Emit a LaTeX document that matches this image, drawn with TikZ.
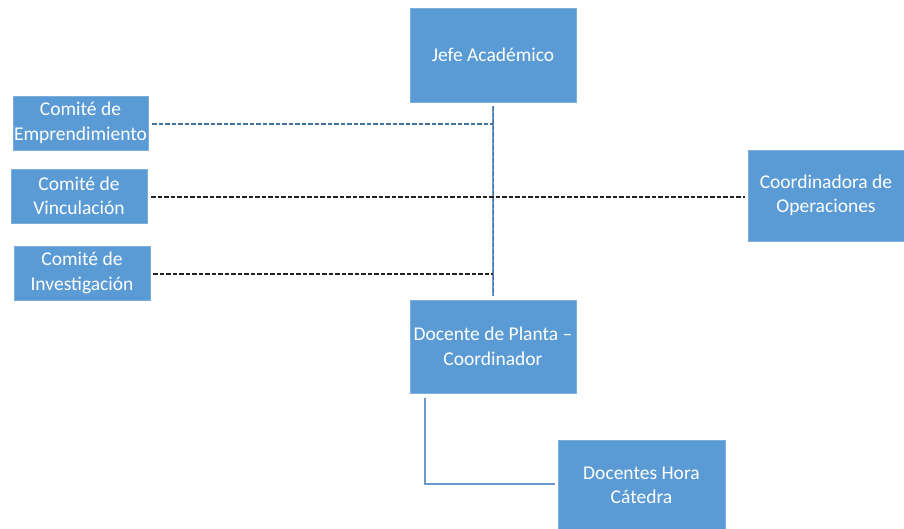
\documentclass[tikz,border=0pt]{standalone}
\usepackage{fontspec}
\setmainfont{Carlito}
\usepackage{xcolor}
\usepackage{tikz}
\usetikzlibrary{positioning}

\definecolor{cajaazul}{HTML}{5B9BD5}
\definecolor{lineaazul}{HTML}{6A9ACF}
\definecolor{rayaazul}{HTML}{41719C}
\definecolor{rayanegra}{HTML}{222222}

\begin{document}
\begin{tikzpicture}[x=1pt,y=-1pt,
  cargo/.style={fill=cajaazul,draw=cajaazul!80!white,text=white,align=center,
    inner sep=0pt,font=\fontsize{19.5}{24.5}\selectfont},
  rayado/.style={dash pattern=on 4.5pt off 2pt,line width=1.4pt}]
\useasboundingbox (0,0) rectangle (904,528);
\clip (0,0) rectangle (904,528);
  \node[cargo,minimum width=166pt,minimum height=94pt] (jefe) at (493,55) {Jefe Académico};
  \node[cargo,minimum width=135pt,minimum height=54pt] (emprend) at (80.5,123) {Comité de\\Emprendimiento};
  \node[cargo,minimum width=136pt,minimum height=54pt] (vincul) at (79,196) {Comité de\\Vinculación};
  \node[cargo,minimum width=136pt,minimum height=54pt] (investig) at (82,273) {Comité de\\Investigación};
  \node[cargo,minimum width=156pt,minimum height=91pt] (coordop) at (826,195.5) {Coordinadora de\\Operaciones};
  \node[cargo,minimum width=166pt,minimum height=93pt] (docplanta) at (493,346.5) {Docente de Planta --\\Coordinador};
  \node[cargo,minimum width=167pt,minimum height=91pt] (horacat) at (641.5,485.5) {Docentes Hora\\Cátedra};
  % linea central
  \draw[lineaazul,line width=2pt,shorten <=4pt,shorten >=4pt] (jefe.south) -- (docplanta.north);
  \draw[rayaazul,dash pattern=on 4.5pt off 2pt,line width=0.7pt,shorten <=4pt,shorten >=4pt] (jefe.south) -- (docplanta.north);
  % comites
  \draw[rayado,rayaazul,shorten <=4pt] ([yshift=-1pt]emprend.east) -- ([yshift=-1pt]emprend.east -| jefe.south);
  \draw[rayado,rayanegra,shorten <=4pt,shorten >=3pt] ([yshift=-1pt]vincul.east) -- ([yshift=-1pt]vincul.east -| coordop.west);
  \draw[rayado,rayanegra,shorten <=3pt] ([yshift=-1pt]investig.east) -- ([yshift=-1pt]investig.east -| jefe.south);
  % docentes hora catedra
  \draw[lineaazul,line width=1.8pt,shorten <=5pt,shorten >=3pt] ([xshift=15pt]docplanta.south west) |- ([yshift=1.5pt]horacat.west);
\end{tikzpicture}
\end{document}
